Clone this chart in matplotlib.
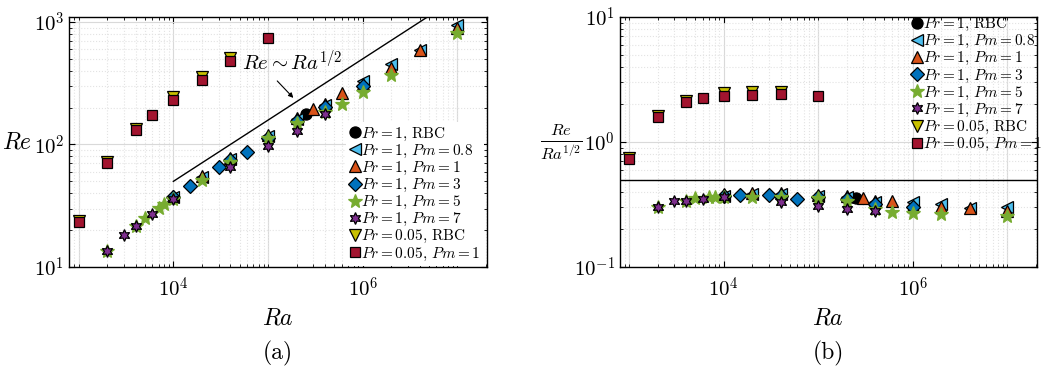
import numpy as np
import matplotlib
matplotlib.use('Agg')
import matplotlib.pyplot as plt
from matplotlib.ticker import LogLocator, FuncFormatter, NullFormatter

plt.rcParams['mathtext.fontset'] = 'cm'
plt.rcParams['font.family'] = 'DejaVu Serif'

# --- data (Ra, Re) ---
ra_rbc1 = [2.5e5]
re_rbc1 = [177]

ra_pm08 = [1e4, 2e4, 4e4, 1e5, 2e5, 4e5, 1e6, 2e6, 4e6, 1e7]
re_pm08 = [37, 54, 76, 117, 161, 209, 330, 453, 590, 949]

ra_pm1 = [1e4, 2e4, 4e4, 1e5, 2e5, 3e5, 4e5, 6e5, 1e6, 2e6, 4e6, 1e7]
re_pm1 = [38, 55, 78, 120, 165, 194, 215, 263, 310, 424, 590, 885]

ra_pm3 = [1e4, 1.5e4, 3e4, 4e4, 6e4, 1e5, 2e5, 4e5, 1e6]
re_pm3 = [37, 46, 65, 74, 86, 114, 156, 202, 300]

ra_pm5 = [2e3, 4e3, 5e3, 7e3, 8e3, 1e4, 2e4, 4e4, 1e5, 2e5, 4e5, 6e5, 1e6, 2e6, 1e7]
re_pm5 = [13.4, 21.5, 25.1, 30.5, 32.7, 36, 51, 72, 112, 150, 185, 215, 268, 372, 806]

ra_pm7 = [2e3, 3e3, 4e3, 6e3, 1e4, 4e4, 1e5, 2e5, 4e5]
re_pm7 = [13.4, 18.3, 21.5, 27.1, 36, 66, 98, 130, 177]

ra_rbc005 = [1e3, 2e3, 4e3, 1e4, 2e4, 4e4]
re_rbc005 = [23.7, 71.6, 134, 245, 354, 504]

ra_pm1_005 = [1e3, 2e3, 4e3, 6e3, 1e4, 2e4, 4e4, 1e5]
re_pm1_005 = [23.1, 70.7, 131.5, 173.5, 232, 335, 480, 734]

# scaling line Re = 0.5 Ra^(1/2)
ra_fit = np.array([1e4, 6e6])
c_fit = 0.5

series = [
    (ra_rbc1, re_rbc1, 'o', 'black', 'black', r'$Pr=1,\,\mathrm{RBC}$', 8),
    (ra_pm08, re_pm08, '<', '#4DBEEE', 'black', r'$Pr=1,\,Pm=0.8$', 8.5),
    (ra_pm1, re_pm1, '^', '#D95319', 'black', r'$Pr=1,\,Pm=1$', 8.5),
    (ra_pm3, re_pm3, 'D', '#0072BD', 'black', r'$Pr=1,\,Pm=3$', 7),
    (ra_pm5, re_pm5, '*', '#77AC30', '#77AC30', r'$Pr=1,\,Pm=5$', 10),
    (ra_pm7, re_pm7, (6, 1, 0), '#7E2F8E', 'black', r'$Pr=1,\,Pm=7$', 8.5),
    (ra_rbc005, re_rbc005, 'v', '#C8C000', 'black', r'$Pr=0.05,\,\mathrm{RBC}$', 8.5),
    (ra_pm1_005, re_pm1_005, 's', '#A2142F', 'black', r'$Pr=0.05,\,Pm=1$', 7),
]


def log_fmt(v, pos):
    return r'$10^{%d}$' % int(round(np.log10(v)))


def style_axes(ax):
    ax.set_xscale('log')
    ax.set_yscale('log')
    ax.set_xlim(7.9e2, 2.05e7)
    ax.xaxis.set_major_locator(LogLocator(base=100, numticks=10))
    ax.xaxis.set_minor_locator(LogLocator(base=10, subs=np.arange(1, 10), numticks=20))
    ax.yaxis.set_major_locator(LogLocator(base=10, numticks=10))
    ax.yaxis.set_minor_locator(LogLocator(base=10, subs=np.arange(2, 10), numticks=20))
    ax.xaxis.set_major_formatter(FuncFormatter(log_fmt))
    ax.yaxis.set_major_formatter(FuncFormatter(log_fmt))
    ax.xaxis.set_minor_formatter(NullFormatter())
    ax.yaxis.set_minor_formatter(NullFormatter())
    ax.grid(True, which='major', color='#d9d9d9', linewidth=0.8)
    ax.grid(True, which='minor', color='#e3e3e3', linestyle=':', linewidth=0.8)
    # decade grid in x too
    for v in [1e3, 1e5, 1e7]:
        ax.axvline(v, color='#d9d9d9', linewidth=0.8, zorder=0)
    ax.set_axisbelow(True)
    ax.tick_params(which='both', direction='in', top=True, right=True, labelsize=15)
    ax.tick_params(axis='x', which='major', pad=7)
    ax.tick_params(which='major', length=4)
    ax.tick_params(which='minor', length=2.5)
    for s in ax.spines.values():
        s.set_linewidth(1.0)
    ax.set_xlabel(r'$Ra$', fontsize=17, labelpad=4)


fig = plt.figure(figsize=(10.45, 3.67), dpi=100)
ax1 = fig.add_axes([0.066, 0.2725, 0.400, 0.6815])
ax2 = fig.add_axes([0.593, 0.2725, 0.399, 0.6815])

for ra, re, m, fc, ec, lab, ms in series:
    ra = np.array(ra)
    re = np.array(re)
    ax1.plot(ra, re, linestyle='none', marker=m, markerfacecolor=fc,
             markeredgecolor=ec, markersize=ms, markeredgewidth=0.9, label=lab)
    ax2.plot(ra, re / np.sqrt(ra), linestyle='none', marker=m, markerfacecolor=fc,
             markeredgecolor=ec, markersize=ms, markeredgewidth=0.9, label=lab)

# left panel
ax1.plot(ra_fit, c_fit * np.sqrt(ra_fit), color='black', linewidth=1.0)
style_axes(ax1)
ax1.set_ylim(10, 1100)
ax1.set_ylabel(r'$Re$', fontsize=17, rotation=0, labelpad=12, va='center')
ax1.text(1.8e5, 470, r'$Re\sim Ra^{1/2}$', ha='center', va='center', fontsize=15)
ax1.annotate('', xy=(1.85e5, 240), xytext=(1.25e5, 330),
             arrowprops=dict(arrowstyle='-|>', color='black', lw=0.8,
                             mutation_scale=7, shrinkA=0, shrinkB=0))
leg1 = ax1.legend(loc='lower right', bbox_to_anchor=(1.0, -0.01), fontsize=11,
                  frameon=True, framealpha=1, edgecolor='none', facecolor='white',
                  handlelength=0.6, handletextpad=0.1, labelspacing=0.0,
                  borderpad=0.25, borderaxespad=0.2)
ax1.text(0.5, -0.345, '(a)', transform=ax1.transAxes, ha='center',
         va='center', fontsize=17, family='cmr10')

# right panel
ax2.axhline(c_fit, color='black', linewidth=1.0)
style_axes(ax2)
ax2.set_ylim(0.1, 10)
ax2.set_ylabel(r'$\frac{Re}{Ra^{1/2}}$', fontsize=17, rotation=0, labelpad=9,
               va='center')
leg2 = ax2.legend(loc='upper right', bbox_to_anchor=(1.018, 1.01), fontsize=11,
                  frameon=False,
                  handlelength=0.6, handletextpad=0.1, labelspacing=0.0,
                  borderpad=0.1, borderaxespad=0.0)
ax2.text(0.5, -0.345, '(b)', transform=ax2.transAxes, ha='center',
         va='center', fontsize=17, family='cmr10')

fig.savefig('out.png', dpi=100)
